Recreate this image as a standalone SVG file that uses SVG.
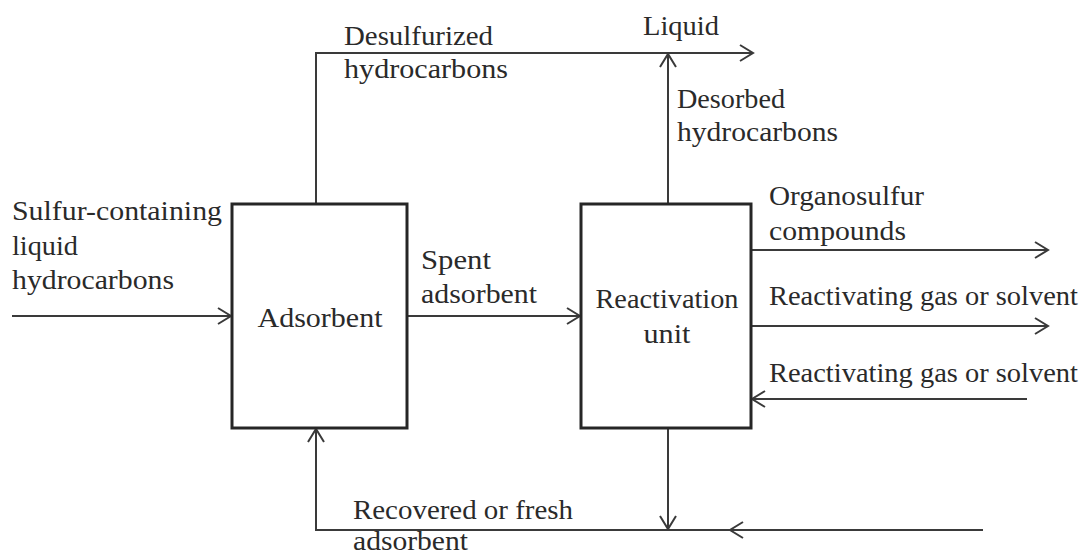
<svg xmlns="http://www.w3.org/2000/svg" width="1092" height="556" viewBox="0 0 1092 556">
<style>
text{font-family:'Liberation Serif','Times New Roman',serif;font-size:27px;fill:#2a2a2a}
.box{fill:#fff;stroke:#262626;stroke-width:3}
.ln{fill:none;stroke:#3a3a3a;stroke-width:2}
</style>
<defs>
<marker id="ah" markerUnits="userSpaceOnUse" viewBox="-16 -9 18 18" markerWidth="18" markerHeight="18" refX="0" refY="0" orient="auto">
<path d="M-13,-8 L0,0 L-13,8" fill="none" stroke="#3a3a3a" stroke-width="2"/>
</marker>
</defs>
<rect width="1092" height="556" fill="#fff"/>
<g id="connectors">
<path class="ln" d="M316,204 V53 H753" marker-end="url(#ah)"/>
<path class="ln" d="M668,204 V54" marker-end="url(#ah)"/>
<path class="ln" d="M12,316 H231" marker-end="url(#ah)"/>
<path class="ln" d="M407,316 H580" marker-end="url(#ah)"/>
<path class="ln" d="M751,250 H1048" marker-end="url(#ah)"/>
<path class="ln" d="M751,326 H1048" marker-end="url(#ah)"/>
<path class="ln" d="M1027,399 H752" marker-end="url(#ah)"/>
<path class="ln" d="M668,428 V529" marker-end="url(#ah)"/>
<path class="ln" d="M983,530 H730" marker-end="url(#ah)"/>
<path class="ln" d="M730,530 H316 V429" marker-end="url(#ah)"/>
</g>
<g id="adsorbent">
<rect class="box" x="232" y="204" width="175" height="224"/>
<text x="320" y="327" text-anchor="middle" textLength="125" lengthAdjust="spacingAndGlyphs">Adsorbent</text>
</g>
<g id="reactivation-unit">
<rect class="box" x="581" y="204" width="170" height="224"/>
<text x="667" y="308" text-anchor="middle" textLength="143" lengthAdjust="spacingAndGlyphs">Reactivation</text>
<text x="667" y="343" text-anchor="middle" textLength="47" lengthAdjust="spacingAndGlyphs">unit</text>
</g>
<g id="labels">
<text x="344" y="45" textLength="149" lengthAdjust="spacingAndGlyphs">Desulfurized</text>
<text x="344" y="78" textLength="164" lengthAdjust="spacingAndGlyphs">hydrocarbons</text>
<text x="643" y="35" textLength="76" lengthAdjust="spacingAndGlyphs">Liquid</text>
<text x="677" y="108" textLength="108" lengthAdjust="spacingAndGlyphs">Desorbed</text>
<text x="677" y="141" textLength="161" lengthAdjust="spacingAndGlyphs">hydrocarbons</text>
<text x="12" y="220" textLength="210" lengthAdjust="spacingAndGlyphs">Sulfur-containing</text>
<text x="12" y="255" textLength="66" lengthAdjust="spacingAndGlyphs">liquid</text>
<text x="12" y="289" textLength="162" lengthAdjust="spacingAndGlyphs">hydrocarbons</text>
<text x="421" y="269" textLength="70" lengthAdjust="spacingAndGlyphs">Spent</text>
<text x="421" y="303" textLength="116" lengthAdjust="spacingAndGlyphs">adsorbent</text>
<text x="769" y="205" textLength="155" lengthAdjust="spacingAndGlyphs">Organosulfur</text>
<text x="769" y="240" textLength="137" lengthAdjust="spacingAndGlyphs">compounds</text>
<text x="769" y="305" textLength="309" lengthAdjust="spacingAndGlyphs">Reactivating gas or solvent</text>
<text x="769" y="382" textLength="309" lengthAdjust="spacingAndGlyphs">Reactivating gas or solvent</text>
<text x="353" y="519" textLength="220" lengthAdjust="spacingAndGlyphs">Recovered or fresh</text>
<text x="353" y="550" textLength="115" lengthAdjust="spacingAndGlyphs">adsorbent</text>
</g>
</svg>
